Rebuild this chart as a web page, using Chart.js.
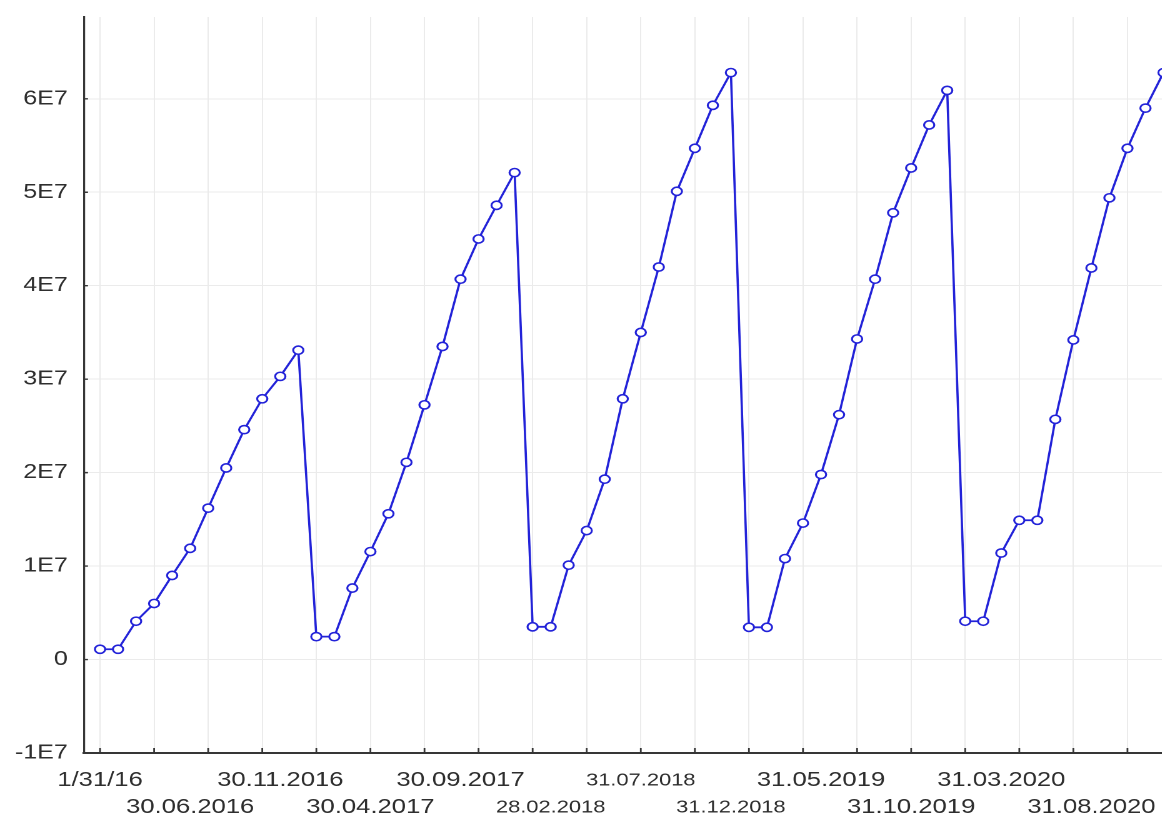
<!DOCTYPE html>
<html>
<head>
<meta charset="utf-8">
<script src="https://cdn.jsdelivr.net/npm/chart.js@4.4.1/dist/chart.umd.min.js"></script>
<style>
  html, body { margin: 0; padding: 0; background: #ffffff; overflow: hidden; }
  /* the plot is drawn narrow and widened horizontally */
  #wrap {
    width: 960px; height: 819px;
    transform: scaleX(1.25); transform-origin: 0 0;
  }
</style>
</head>
<body>
<div id="wrap"><canvas id="chart" width="960" height="819"></canvas></div>
<script>
// Monthly cumulative totals, one array per year (Jan..Dec)
const values2016 = [1.1e6, 1.1e6, 4.1e6, 6.0e6, 9.0e6, 11.9e6, 16.2e6, 20.5e6, 24.6e6, 27.9e6, 30.3e6, 33.1e6];
const values2017 = [2.45e6, 2.45e6, 7.65e6, 11.55e6, 15.6e6, 21.1e6, 27.25e6, 33.5e6, 40.7e6, 45.0e6, 48.6e6, 52.1e6];
const values2018 = [3.5e6, 3.5e6, 10.1e6, 13.8e6, 19.3e6, 27.9e6, 35.0e6, 42.0e6, 50.1e6, 54.7e6, 59.3e6, 62.8e6];
const values2019 = [3.45e6, 3.45e6, 10.8e6, 14.6e6, 19.8e6, 26.2e6, 34.3e6, 40.7e6, 47.8e6, 52.6e6, 57.2e6, 60.9e6];
const values2020 = [4.1e6, 4.1e6, 11.4e6, 14.9e6, 14.9e6, 25.7e6, 34.2e6, 41.9e6, 49.4e6, 54.7e6, 59.0e6, 62.8e6];

// Date labels shown every fifth month, alternating between two rows
const xTickLabels = ['1/31/16', '30.06.2016', '30.11.2016', '30.04.2017', '30.09.2017', '28.02.2018',
                     '31.07.2018', '31.12.2018', '31.05.2019', '31.10.2019', '31.03.2020', '31.08.2020'];
const xSmallLabels = ['28.02.2018', '31.07.2018', '31.12.2018'];
const xLabelEvery = 5;
const xGridEvery = 3;

const yTickValues = [-1e7, 0, 1e7, 2e7, 3e7, 4e7, 5e7, 6e7];
const yTickLabels = ['-1E7', '0', '1E7', '2E7', '3E7', '4E7', '5E7', '6E7'];

const series = [].concat(values2016, values2017, values2018, values2019, values2020);
const points = series.map((v, i) => ({ x: i, y: v }));

const FONT = '"Liberation Sans", Arial, sans-serif';
const AXIS_COLOR = '#363636';
const GRID_COLOR = '#ebebeb';
const LINE_BLUE = '#2222d8';

function labelFor(value) {
  if (value % xLabelEvery !== 0) return null;
  const k = value / xLabelEvery;
  return k < xTickLabels.length ? { text: xTickLabels[k], row: k % 2 } : null;
}

// Short tick marks pointing into the plot area
const inwardTicks = {
  id: 'inwardTicks',
  afterDraw(chart) {
    const { ctx, chartArea, scales } = chart;
    ctx.save();
    ctx.strokeStyle = AXIS_COLOR;
    ctx.lineWidth = 1.4;
    ctx.beginPath();
    scales.y.ticks.forEach((t, i) => {
      const y = scales.y.getPixelForTick(i);
      ctx.moveTo(chartArea.left, y);
      ctx.lineTo(chartArea.left + 3.2, y);
    });
    scales.x.ticks.forEach((t, i) => {
      if (t.value % xGridEvery !== 0) return;
      const x = scales.x.getPixelForTick(i);
      ctx.moveTo(x, chartArea.bottom);
      ctx.lineTo(x, chartArea.bottom - 5);
    });
    ctx.stroke();
    ctx.restore();
  }
};

new Chart(document.getElementById('chart'), {
  type: 'line',
  data: {
    datasets: [{
      data: points,
      borderColor: LINE_BLUE,
      borderWidth: 1.8,
      tension: 0,
      pointStyle: 'circle',
      pointRadius: 4.1,
      pointBorderWidth: 1.6,
      pointBorderColor: LINE_BLUE,
      pointBackgroundColor: '#ffffff',
      clip: false
    }]
  },
  options: {
    responsive: false,
    animation: false,
    devicePixelRatio: 2,
    layout: { padding: { top: 17, left: 0, right: 0, bottom: 0 } },
    plugins: { legend: { display: false }, tooltip: { enabled: false } },
    scales: {
      x: {
        type: 'linear',
        min: -0.89,
        max: 60.63,
        afterFit(scale) {
          scale.height = 66;
          scale.paddingLeft = 0;
          scale.paddingRight = 0;
        },
        grid: {
          color: (c) => (c.tick && c.tick.value % xGridEvery === 0) ? GRID_COLOR : 'rgba(0,0,0,0)',
          lineWidth: 1,
          drawTicks: false
        },
        border: { color: AXIS_COLOR, width: 2 },
        ticks: {
          stepSize: 1,
          includeBounds: false,
          autoSkip: false,
          maxRotation: 0,
          minRotation: 0,
          padding: 14,
          color: '#2e2e2e',
          font: (c) => {
            const lab = c.tick ? labelFor(c.tick.value) : null;
            const small = lab && xSmallLabels.includes(lab.text);
            return { family: FONT, size: small ? 17.5 : 20.5, lineHeight: '27px' };
          },
          callback: (value) => {
            const lab = labelFor(value);
            if (!lab) return '';
            return lab.row === 0 ? [lab.text, ''] : ['', lab.text];
          }
        }
      },
      y: {
        min: -1e7,
        max: 6.875e7,
        afterBuildTicks(scale) { scale.ticks = yTickValues.map(v => ({ value: v })); },
        afterFit(scale) {
          scale.width = 67.2;
          scale.paddingTop = 0;
          scale.paddingBottom = 0;
        },
        grid: { color: GRID_COLOR, lineWidth: 1, drawTicks: false },
        border: { color: AXIS_COLOR, width: 1.6 },
        ticks: {
          padding: 13,
          color: '#2e2e2e',
          font: { family: FONT, size: 20 },
          callback: (value, index) => yTickLabels[index]
        }
      }
    }
  },
  plugins: [inwardTicks]
});
</script>
</body>
</html>
